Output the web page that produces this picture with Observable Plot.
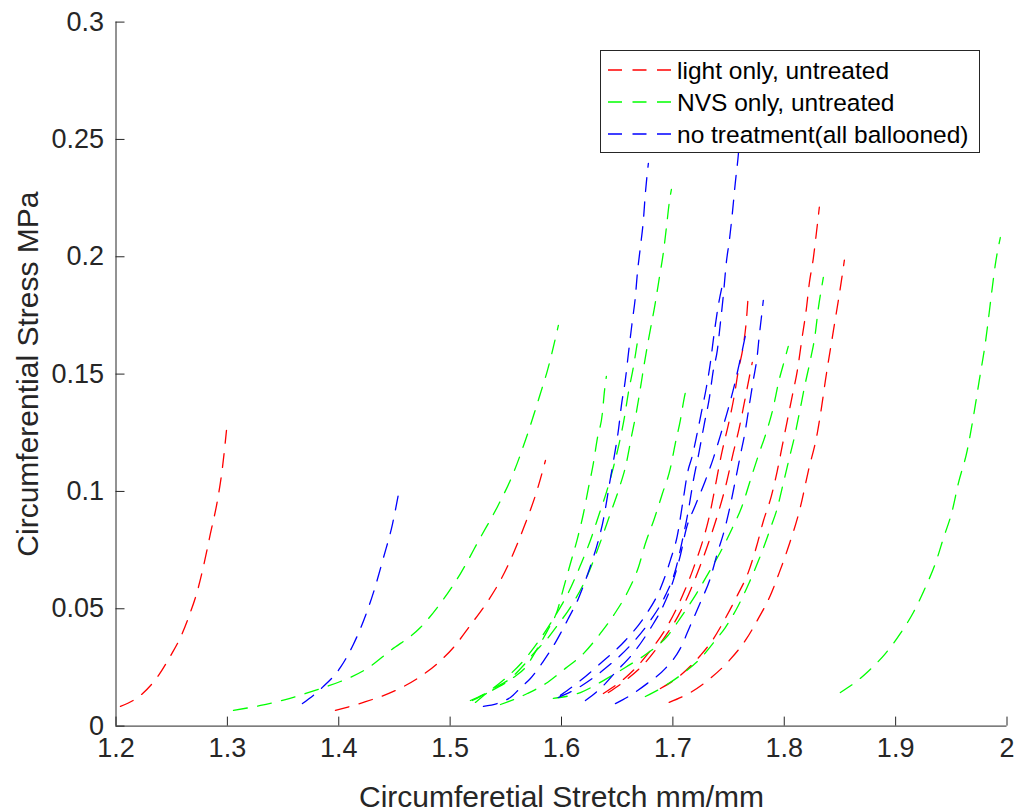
<!DOCTYPE html>
<html>
<head>
<meta charset="utf-8">
<script src="https://cdn.jsdelivr.net/npm/d3@7"></script>
<script src="https://cdn.jsdelivr.net/npm/@observablehq/plot@0.6"></script>
<style>
  html, body { margin: 0; padding: 0; background: #fff; }
  #wrap { position: relative; width: 1018px; height: 812px; font-family: "Liberation Sans", Arial, Helvetica, sans-serif; }
  #wrap svg.plot { display: block; }
  #legend { position: absolute; left: 600px; top: 50px; width: 380px; height: 103px; box-sizing: border-box;
            border: 1px solid #262626; background: #fff; }
</style>
</head>
<body>
<div id="wrap"><div id="legend"></div></div>
<script>
// ---------- tick labels & titles ----------
const xTicks = [1.2, 1.3, 1.4, 1.5, 1.6, 1.7, 1.8, 1.9, 2];
const xTickLabels = ["1.2", "1.3", "1.4", "1.5", "1.6", "1.7", "1.8", "1.9", "2"];
const yTicks = [0, 0.05, 0.1, 0.15, 0.2, 0.25, 0.3];
const yTickLabels = ["0", "0.05", "0.1", "0.15", "0.2", "0.25", "0.3"];
const xLabel = "Circumferetial Stretch mm/mm";
const yLabel = "Circumferential Stress MPa";

const seriesNames = ["light only, untreated", "NVS only, untreated", "no treatment(all ballooned)"];
const seriesColors = ["#ff0000", "#00ff00", "#0000ff"];

// ---------- light only, untreated (red) ----------
const light1 = [[1.204,0.0084],[1.222,0.0131],[1.2382,0.0216],[1.2489,0.0299],[1.2579,0.0378],[1.2651,0.0463],[1.2732,0.0578],[1.2785,0.0680],[1.2848,0.0821],[1.2911,0.0962],[1.2956,0.1102],[1.2992,0.126]];
const light2 = [[1.397,0.0067],[1.4222,0.0101],[1.4491,0.0148],[1.4707,0.0203],[1.4886,0.0267],[1.503,0.0335],[1.5182,0.0430],[1.5335,0.0530],[1.5452,0.0621],[1.5676,0.0864],[1.5784,0.1010],[1.5856,0.1132]];
const light3 = [[1.6376,0.0139],[1.6484,0.0173],[1.6663,0.0246],[1.6798,0.0322],[1.6933,0.0412],[1.7067,0.0535],[1.7184,0.0672],[1.7318,0.0876],[1.7444,0.1175],[1.7507,0.1303],[1.7552,0.141],[1.7588,0.1516],[1.7633,0.1623],[1.766,0.1729],[1.7677,0.184]];
const light4 = [[1.6421,0.0143],[1.6573,0.0194],[1.6753,0.0271],[1.6906,0.0365],[1.7049,0.0471],[1.7157,0.0578],[1.7247,0.0685],[1.7327,0.0791],[1.7408,0.091],[1.7471,0.1017],[1.7543,0.1166],[1.7597,0.1273],[1.7642,0.1379],[1.7686,0.1486],[1.7713,0.155]];
const light5 = [[1.6888,0.016],[1.7067,0.0216],[1.7247,0.0301],[1.7354,0.0365],[1.7471,0.0459],[1.7579,0.0557],[1.7677,0.0655],[1.7749,0.0762],[1.7812,0.0873],[1.7884,0.098],[1.7937,0.1087],[1.7982,0.1194],[1.8027,0.1301],[1.8072,0.1407],[1.8117,0.1514],[1.8162,0.1661],[1.8198,0.1776],[1.8225,0.1887],[1.8261,0.1993],[1.8288,0.2099],[1.8315,0.2211]];
const light6 = [[1.6967,0.0101],[1.7157,0.0143],[1.7345,0.0207],[1.7507,0.028],[1.7651,0.0365],[1.7768,0.0459],[1.7875,0.0557],[1.7956,0.0655],[1.8036,0.0762],[1.8144,0.0932],[1.8216,0.1087],[1.8297,0.1249],[1.8333,0.1353],[1.8369,0.1471],[1.8441,0.1684],[1.8513,0.1897],[1.854,0.1986]];

// ---------- NVS only, untreated (green) ----------
const nvs1 = [[1.3055,0.0067],[1.3298,0.0088],[1.3521,0.0113],[1.3836,0.016],[1.4015,0.019],[1.4257,0.0246],[1.4464,0.0322],[1.4733,0.042],[1.4913,0.0523],[1.5093,0.0650],[1.5272,0.0804],[1.5425,0.0935],[1.5568,0.1078],[1.5676,0.1218],[1.5811,0.1418],[1.5874,0.1516],[1.5972,0.1708]];
const nvs2 = [[1.5182,0.0109],[1.5361,0.0148],[1.5568,0.0207],[1.5676,0.025],[1.5784,0.0331],[1.5874,0.0407],[1.5963,0.0493],[1.6017,0.0586],[1.608,0.0693],[1.6143,0.0799],[1.6197,0.0906],[1.6241,0.1013],[1.6286,0.112],[1.6322,0.1226],[1.6367,0.1333],[1.6385,0.1424],[1.6403,0.149]];
const nvs3 = [[1.52,0.0109],[1.5317,0.0139],[1.5496,0.0203],[1.5676,0.0288],[1.5811,0.0373],[1.5945,0.0471],[1.6062,0.0569],[1.617,0.0685],[1.6259,0.0791],[1.634,0.0906],[1.6403,0.0996],[1.6466,0.1103],[1.652,0.1209],[1.6565,0.1316],[1.6601,0.1422],[1.6645,0.1529],[1.6681,0.1635]];
const nvs4 = [[1.5227,0.0101],[1.5361,0.0152],[1.5541,0.0203],[1.5658,0.0258],[1.5748,0.0309],[1.5874,0.0373],[1.5963,0.0429],[1.608,0.0506],[1.6241,0.0651],[1.6322,0.0749],[1.6439,0.0906],[1.652,0.1017],[1.6582,0.112],[1.6627,0.1231],[1.6672,0.1337],[1.6708,0.1439],[1.6744,0.1546],[1.678,0.1644],[1.6843,0.1806],[1.6879,0.1912],[1.6915,0.2019],[1.6942,0.2125],[1.6969,0.2236],[1.6987,0.2287]];
const nvs5 = [[1.5452,0.0092],[1.5694,0.0139],[1.5874,0.0186],[1.6035,0.0246],[1.6197,0.0309],[1.6349,0.0395],[1.6484,0.0484],[1.6591,0.0569],[1.669,0.0676],[1.6753,0.0778],[1.6834,0.0885],[1.6906,0.0991],[1.6977,0.1098],[1.7022,0.1205],[1.7067,0.1303],[1.7103,0.1401],[1.713,0.1456]];
const nvs6 = [[1.5927,0.0118],[1.617,0.0143],[1.6376,0.0194],[1.6573,0.025],[1.6771,0.031],[1.695,0.0383],[1.7067,0.0460],[1.7202,0.0557],[1.7318,0.0651],[1.7426,0.0741],[1.7534,0.0844],[1.7624,0.0941],[1.7695,0.1047],[1.7768,0.1154],[1.7839,0.1252],[1.7902,0.1359],[1.7947,0.1461],[1.801,0.1572],[1.8036,0.1618]];
const nvs7 = [[1.6753,0.0126],[1.6906,0.0165],[1.7067,0.0216],[1.7247,0.0288],[1.7381,0.0365],[1.7471,0.042],[1.7588,0.0514],[1.7686,0.0612],[1.7776,0.0714],[1.783,0.0781],[1.7875,0.0842],[1.7937,0.0928],[1.7991,0.1034],[1.8045,0.1141],[1.8099,0.1248],[1.8144,0.1354],[1.8189,0.1461],[1.8234,0.1559],[1.8279,0.1674],[1.8306,0.178],[1.8342,0.1887],[1.8351,0.1912]];
const nvs8 = [[1.8504,0.0143],[1.8648,0.019],[1.8755,0.0234],[1.8908,0.0309],[1.9043,0.0395],[1.9159,0.0484],[1.9267,0.0591],[1.9357,0.0693],[1.9428,0.0799],[1.9509,0.0919],[1.9563,0.1034],[1.9643,0.1175],[1.9697,0.1315],[1.9751,0.1473],[1.9805,0.1631],[1.9868,0.1869],[1.9894,0.1963],[1.994,0.2082]];

// ---------- no treatment (all ballooned) (blue) ----------
const none1 = [[1.3674,0.0096],[1.3853,0.0165],[1.4015,0.025],[1.4132,0.0349],[1.4222,0.0448],[1.4312,0.057],[1.4401,0.0717],[1.4482,0.086],[1.4545,0.1012]];
const none2 = [[1.5299,0.0084],[1.5541,0.0122],[1.5631,0.0163],[1.5721,0.0203],[1.5829,0.0271],[1.5945,0.0356],[1.6062,0.0459],[1.6152,0.0544],[1.6215,0.0621],[1.6277,0.0706],[1.6331,0.0791],[1.6380,0.0889],[1.643,0.1030],[1.6475,0.1154],[1.6511,0.1261],[1.6538,0.1367],[1.6573,0.1474],[1.6601,0.1589],[1.6637,0.173],[1.6663,0.1828],[1.6681,0.1929],[1.6708,0.204],[1.6735,0.2155],[1.6753,0.227],[1.678,0.2398]];
const none3 = [[1.5972,0.0122],[1.617,0.0169],[1.6394,0.0246],[1.6618,0.0344],[1.6798,0.045],[1.6933,0.0557],[1.7022,0.0663],[1.7085,0.0791],[1.7139,0.0919],[1.7184,0.1047],[1.7238,0.1175],[1.7283,0.129],[1.7327,0.1397],[1.7363,0.1516],[1.7399,0.1601],[1.7426,0.1715],[1.7453,0.1835],[1.748,0.1976],[1.7507,0.2069],[1.7534,0.2185],[1.756,0.2313],[1.7588,0.2437],[1.7606,0.2547]];
const none4 = [[1.599,0.0131],[1.617,0.0194],[1.6349,0.0267],[1.6573,0.0365],[1.6753,0.0471],[1.6888,0.0586],[1.6977,0.0706],[1.704,0.0812],[1.7094,0.0969],[1.713,0.1076],[1.7175,0.1153],[1.7211,0.1231],[1.7256,0.1337],[1.7301,0.1444],[1.7336,0.1546],[1.7372,0.1678],[1.7408,0.1793],[1.7453,0.1896]];
const none5 = [[1.6215,0.0109],[1.6349,0.016],[1.6484,0.0229],[1.6663,0.0322],[1.6798,0.0416],[1.6915,0.0514],[1.7004,0.0621],[1.7067,0.0727],[1.7121,0.0842],[1.7202,0.0941],[1.7292,0.1047],[1.7363,0.1141],[1.7435,0.1252],[1.7498,0.1354],[1.7552,0.1452],[1.7597,0.1546],[1.7633,0.1623],[1.766,0.1686]];
const none6 = [[1.6484,0.0096],[1.6601,0.0126],[1.6771,0.0182],[1.6933,0.0246],[1.7067,0.0331],[1.7157,0.0429],[1.7247,0.0527],[1.7336,0.063],[1.7399,0.0736],[1.7462,0.0834],[1.7516,0.0941],[1.7561,0.1047],[1.7606,0.1154],[1.7651,0.1261],[1.7686,0.1367],[1.7722,0.1474],[1.7758,0.158],[1.7776,0.1665],[1.7794,0.1738],[1.7812,0.1814]];

const groups = [
  {name: seriesNames[0], curves: [light1, light2, light3, light4, light5, light6]},
  {name: seriesNames[1], curves: [nvs1, nvs2, nvs3, nvs4, nvs5, nvs6, nvs7, nvs8]},
  {name: seriesNames[2], curves: [none1, none2, none3, none4, none5, none6]}
];

const rows = [];
groups.forEach((g, gi) => g.curves.forEach((c, ci) => c.forEach(([x, y]) => rows.push({x, y, id: gi + "-" + ci, group: g.name}))));

const axisColor = "#262626";
const dash = "14,10.5";

const chart = Plot.plot({
  width: 1018,
  height: 812,
  marginLeft: 115.5,
  marginRight: 11.5,
  marginTop: 21.6,
  marginBottom: 86.4,
  x: {domain: [1.2, 2], axis: null},
  y: {domain: [0, 0.3], axis: null},
  color: {domain: seriesNames, range: seriesColors},
  style: {fontFamily: '"Liberation Sans", Arial, Helvetica, sans-serif', background: "#fff", color: axisColor},
  marks: [
    Plot.line(rows, {x: "x", y: "y", z: "id", stroke: "group", strokeWidth: 1.3, strokeDasharray: dash, curve: "monotone-x"}),
    Plot.ruleY([0], {stroke: axisColor}),
    Plot.ruleX([1.2], {stroke: axisColor}),
    Plot.tickX(xTicks, {x: d => d, insetTop: 695, stroke: axisColor}),
    Plot.tickY(yTicks, {y: d => d, insetRight: 882, stroke: axisColor}),
    Plot.text(xTicks, {x: d => d, y: 0, dy: 22.5, text: (d, i) => xTickLabels[i], fontSize: 27, fill: axisColor}),
    Plot.text(yTicks, {x: 1.2, y: d => d, dx: -12, textAnchor: "end", text: (d, i) => yTickLabels[i], fontSize: 27, fill: axisColor}),
    Plot.text([xLabel], {frameAnchor: "bottom", dy: 71.5, lineAnchor: "middle", textAnchor: "middle", text: d => d, fontSize: 30, fill: axisColor}),
    Plot.text([yLabel], {frameAnchor: "left", dx: -87.5, rotate: -90, textAnchor: "middle", lineAnchor: "middle", text: d => d, fontSize: 30, fill: axisColor})
  ]
});
const wrap = document.getElementById("wrap");
wrap.insertBefore(chart, wrap.firstChild);

// ---------- legend (HTML overlay) ----------
const legend = d3.select("#legend").append("svg").attr("width", 378).attr("height", 101);
seriesNames.forEach((name, i) => {
  const cy = 19 + i * 32;
  legend.append("line").attr("x1", 7).attr("x2", 70).attr("y1", cy).attr("y2", cy)
    .attr("stroke", seriesColors[i]).attr("stroke-width", 1.3).attr("stroke-dasharray", dash);
  legend.append("text").attr("x", 76).attr("y", cy).attr("dy", "0.35em")
    .attr("font-size", 24.5).attr("fill", "#000")
    .attr("font-family", '"Liberation Sans", Arial, Helvetica, sans-serif').text(name);
});
</script>
</body>
</html>
